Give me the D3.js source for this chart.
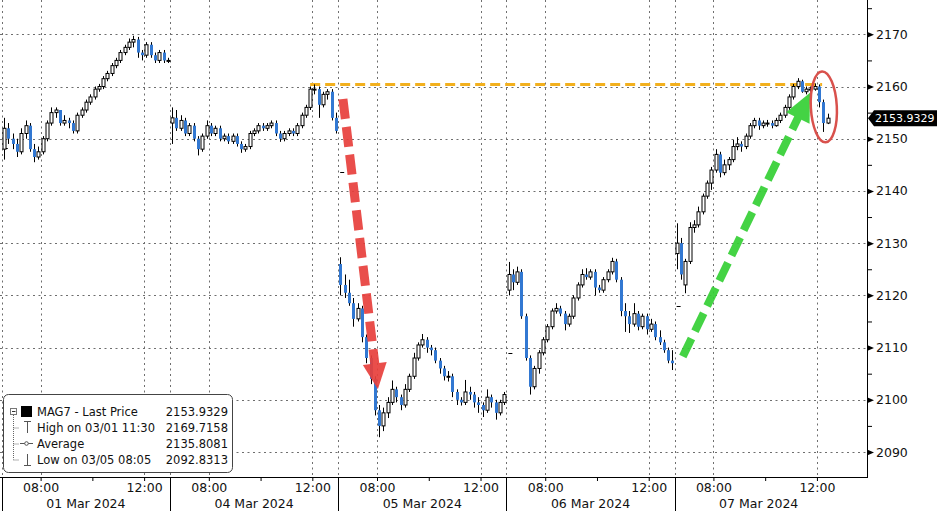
<!DOCTYPE html>
<html><head><meta charset="utf-8">
<script src="https://cdn.jsdelivr.net/npm/d3@7"></script>
<style>
html,body{margin:0;padding:0;background:#fff;}
svg{display:block;}
text{font-family:"DejaVu Sans","Liberation Sans",sans-serif;}
</style></head><body>
<svg id="c" width="937" height="511"></svg>
<script>
// ---------------- DATA ----------------
const days = ["01 Mar 2024","04 Mar 2024","05 Mar 2024","06 Mar 2024","07 Mar 2024"];
const sessionMinutes = 390;   // 06:30 - 13:00
const barMinutes = 10;
// [open, high, low, close]
const mar01 = [
[2148,2154,2146,2152],[2152,2153,2149,2150],[2150,2151,2148,2149],[2149,2150,2146.5,2147.5],
[2147.5,2152,2147,2151],[2151,2153.5,2150,2152.5],[2152.5,2153,2147.5,2148],[2148,2149,2145.5,2146.5],
[2146.5,2148.5,2146,2147.5],[2147.5,2150.5,2147,2150],[2150,2153.5,2149.5,2153],[2153,2156,2152.5,2155],
[2155,2156,2154,2155.5],[2155.5,2155.5,2152.5,2153],[2153,2154.5,2152.5,2153.5],[2153.5,2154,2152,2153],
[2153,2153.5,2151,2151.5],[2151.5,2155,2151,2154.5],[2154.5,2156,2154,2155.5],[2155.5,2157.5,2155,2157],
[2157,2158.5,2156.5,2158],[2158,2160,2157.5,2159.5],[2159.5,2160.5,2159,2160],[2160,2162,2159.5,2161.5],
[2161.5,2163,2161,2162.5],[2162.5,2164.5,2162,2164],[2164,2165.5,2163.5,2165],[2165,2167,2164.5,2166.5],
[2166.5,2168,2166,2167.5],[2167.5,2169.2,2167,2168.5],[2168.5,2169.72,2167.5,2169],[2169,2169.5,2165.5,2166.5],
[2166.5,2167,2165,2166],[2166,2168.5,2165.5,2168],[2168,2168.5,2165.5,2166],[2166,2166.5,2164.5,2165],
[2165,2167,2164.5,2166.5],[2166.5,2167,2164.5,2165],[2165,2165.5,2164.5,2165]
];
const mar04 = [
[2153,2156,2149,2154],[2154,2155.5,2151.5,2152],[2152,2154.5,2151.5,2153.5],[2153.5,2154,2150.5,2151],
[2151,2153,2150.5,2152.5],[2152.5,2153,2149.5,2150],[2150,2150.5,2146.8,2148],[2148,2151,2147.5,2150.5],
[2150.5,2153.5,2150,2152.5],[2152.5,2153,2150.5,2151],[2151,2152.5,2150.5,2152],[2152,2152.5,2149.5,2150],
[2150,2151,2149.5,2150.5],[2150.5,2151,2149,2149.5],[2149.5,2151,2149,2150.5],[2150.5,2151,2148.5,2149],
[2149,2149.5,2147.3,2148],[2148,2149,2147.5,2148.5],[2148.5,2151.5,2148,2151],[2151,2152,2150.5,2151.5],
[2151.5,2153,2151,2152.5],[2152.5,2153,2151.5,2152],[2152,2153,2151.5,2152.5],[2152.5,2153.5,2152,2153],
[2153,2153.5,2150.5,2151],[2151,2151.5,2149.4,2150],[2150,2151.5,2149.5,2151],[2151,2152,2150.5,2151.5],
[2151.5,2152,2150.5,2151],[2151,2153,2150.5,2152.5],[2152.5,2155,2152,2154.5],[2154.5,2156.5,2154,2156],
[2156,2160,2155.5,2159.5],[2159.5,2160.4,2158.5,2159.5],[2159.5,2160,2154,2156.5],[2156.5,2159,2156,2158.5],
[2158.5,2159.5,2157.5,2159],[2159,2159.5,2153.5,2154],[2154,2155,2151,2151.5]
];
const mar05 = [
[2126,2127.3,2120,2122],[2122,2124,2119.5,2120.5],[2120.5,2123,2118,2118.5],[2118.5,2119.5,2114,2115.5],
[2115.5,2118.5,2115,2117.5],[2117.5,2118,2111,2112],[2112,2112.5,2107,2108],[2108,2108.5,2103,2104],
[2104,2104.5,2097,2098],[2098,2099,2092.83,2095],[2095,2098.5,2094,2097.5],[2097.5,2100.5,2096.5,2099.5],
[2099.5,2103.7,2099,2102],[2102,2102.5,2099.5,2100.5],[2100.5,2101,2098,2099],[2099,2103,2098.5,2102],
[2102,2105,2101.5,2104.5],[2104.5,2109,2104,2108],[2108,2111,2107.5,2110.5],[2110.5,2112.6,2110,2111.5],
[2111.5,2112,2109,2110],[2110,2110.5,2108.5,2109.5],[2109.5,2110,2107,2107.5],[2107.5,2108,2105,2106],
[2106,2106.5,2103.7,2104.5],[2104.5,2105.5,2103.5,2104.5],[2104.5,2105,2100.5,2101.5],[2101.5,2102,2099,2100],
[2100,2100.5,2098.9,2099.5],[2099.5,2103.8,2099,2101.5],[2101.5,2102.5,2100,2101],[2101,2101.5,2098.5,2099.5],
[2099.5,2100.5,2097.5,2099],[2099,2099.5,2096.7,2098],[2098,2102,2097.5,2100.5],[2100.5,2101,2098.5,2099.5],
[2099.5,2100,2096.2,2097.5],[2097.5,2100,2097,2099.5],[2099.5,2101.5,2099,2101]
];
const mar06 = [
[2121,2126.4,2120,2124],[2124,2125,2121,2122.5],[2122.5,2125.5,2122,2124.5],[2124.5,2125,2115.5,2116],
[2116,2116.5,2107.5,2108],[2108,2108.5,2101,2102.5],[2102.5,2106.5,2102,2106],[2106,2109.5,2105,2109],
[2109,2112,2108.5,2111.5],[2111.5,2114.5,2111,2114],[2114,2117.5,2113.5,2117],[2117,2118.5,2116.5,2117.5],
[2117.5,2118,2116,2116.5],[2116.5,2117,2113.3,2114.5],[2114.5,2116.5,2114,2116],[2116,2120,2115.5,2119.5],
[2119.5,2122.5,2119,2122],[2122,2125,2121.5,2124],[2124,2125.2,2123,2123.5],[2123.5,2125,2123,2124.5],
[2124.5,2125,2120,2121.5],[2121.5,2122,2120.5,2121],[2121,2123.5,2120.5,2123],[2123,2125,2122.5,2124.5],
[2124.5,2127.2,2124,2126.5],[2126.5,2127,2122.5,2123],[2123,2123.5,2116,2117],[2117,2118.5,2113,2116],
[2116,2117,2112.8,2114.5],[2114.5,2118.5,2114,2116.5],[2116.5,2117,2113.3,2114],[2114,2116.5,2113.5,2116],
[2116,2116.5,2112.5,2113.5],[2113.5,2115.5,2113,2114.5],[2114.5,2115,2111.4,2112],[2112,2113.3,2110.5,2111],
[2111,2111.5,2109,2109.5],[2109.5,2110,2107,2107.5],[2107.5,2109.5,2105.7,2107]
];
const mar07 = [
[2128,2133.8,2125,2130],[2130,2131,2123,2124],[2122,2127,2120.4,2126.5],[2126.5,2134,2126,2133],
[2133,2134.4,2132,2133.5],[2133.5,2137,2133,2136],[2136,2139.5,2135.5,2139],[2139,2142,2138.5,2141.5],
[2141.5,2144.6,2140.2,2144],[2144,2148,2143.5,2147],[2147,2147.5,2142.6,2143.5],[2143.5,2146,2143,2145],
[2145,2146.5,2144,2146],[2146,2149.8,2145.5,2148.5],[2148.5,2150.3,2147.8,2149],[2149,2149.5,2147.5,2148.5],
[2148.5,2151,2148,2150.5],[2150.5,2153,2150,2152.5],[2152.5,2154,2152,2153.5],[2153.5,2154,2151.7,2152.5],
[2152.5,2153.5,2152,2153],[2153,2153.6,2152.3,2153],[2153,2153.5,2152,2152.5],[2152.5,2154,2152.3,2153.5],
[2153.5,2155,2153,2154.5],[2154.5,2156.5,2154,2156],[2156,2158.5,2155.5,2158],[2158,2160.5,2157.5,2160],
[2160,2161.6,2159.5,2161],[2161,2161.3,2158.8,2159],[2159,2160,2158.5,2159.5],[2159.5,2160,2159,2159.5],
[2159.5,2160.6,2159.2,2160],[2160,2160.4,2156,2157],[2157,2157.5,2151.3,2153],[2153,2154.8,2152.8,2153.9329]
];
const dayBars = [mar01, mar04, mar05, mar06, mar07];
const firstTicks = [2148.2, null, 2143.7, 2109, 2118];
const priceTicks = [2090,2100,2110,2120,2130,2140,2150,2160,2170];
const minorPriceTicks = [2095,2105,2115,2125,2135,2145,2155,2165,2175];
const timeTickMinutes = [90,210,330];          // 08:00, 10:00, 12:00
const timeTickLabels = ["08:00","","12:00"];
const lastPrice = 2153.9329;
const legendLabels = ["MAG7 - Last Price","High on 03/01 11:30","Average","Low on 03/05 08:05"];
const legendValues = ["2153.9329","2169.7158","2135.8081","2092.8313"];
// annotations: [dayIndex, minute, price]
const refLevel = 2160.4;
const refFrom = [1, 325];
const refTo = [4, 342];
const redArrow = [[2, 11, 2157.6], [2, 92, 2102.0]];
const greenArrow = [[4, 19, 2108.3], [4, 314, 2158.8]];
const ellipseAt = [4, 346, 2156.1];

// ---------------- CHART ----------------
const svg = d3.select("#c");
const W = 937, H = 511, axisX = 867, axisY = 477;
const FS = 12.5;
const x = d3.scaleLinear().domain([0, days.length * sessionMinutes]).range([1.8, 842.8]);
const y = d3.scaleLinear().domain([2090, 2170]).range([452, 34.3]);
const tx = (d, m) => x(d * sessionMinutes + m);
const BLUE = "#3278d2";

// grid
const grid = svg.append("g").attr("stroke", "#6e6e6e").attr("stroke-dasharray", "2,3.5").attr("stroke-width", 1);
priceTicks.forEach(p => {
  const yy = Math.round(y(p)) + 0.5;
  grid.append("line").attr("x1", 0).attr("x2", axisX).attr("y1", yy).attr("y2", yy);
});
const vTimes = [];
days.forEach((d, i) => { vTimes.push(i * sessionMinutes); vTimes.push(i * sessionMinutes + 90); vTimes.push(i * sessionMinutes + 330); });
vTimes.forEach(t => {
  const xx = Math.round(x(t)) + 0.5;
  grid.append("line").attr("x1", xx).attr("x2", xx).attr("y1", 0).attr("y2", axisY);
});

// reference level (orange dashed)
svg.append("line")
  .attr("x1", tx(refFrom[0], refFrom[1])).attr("x2", tx(refTo[0], refTo[1]))
  .attr("y1", y(refLevel)).attr("y2", y(refLevel))
  .attr("stroke", "#f2b01e").attr("stroke-width", 3).attr("stroke-dasharray", "10,5");

// candles
const cg = svg.append("g");
dayBars.forEach((bars, d) => {
  if (firstTicks[d] != null) {
    const fx = tx(d, 0);
    cg.append("line").attr("x1", fx + 2).attr("x2", fx + 6)
      .attr("y1", Math.round(y(firstTicks[d])) + 0.5).attr("y2", Math.round(y(firstTicks[d])) + 0.5)
      .attr("stroke", "#000").attr("stroke-width", 1);
  }
  bars.forEach((b, i) => {
    const [o, h, l, c] = b;
    const cx = Math.round(tx(d, i * barMinutes + barMinutes / 2)) + 0.5;
    cg.append("line").attr("x1", cx).attr("x2", cx).attr("y1", y(h)).attr("y2", y(l))
      .attr("stroke", "#000").attr("stroke-width", 1);
    const top = y(Math.max(o, c)), bot = y(Math.min(o, c));
    if (c >= o) {
      cg.append("rect").attr("x", cx - 1.5).attr("width", 3)
        .attr("y", top).attr("height", Math.max(1, bot - top))
        .attr("fill", "#fff").attr("stroke", "#000").attr("stroke-width", 1);
    } else {
      cg.append("rect").attr("x", cx - 1.5).attr("width", 3)
        .attr("y", top).attr("height", Math.max(1, bot - top))
        .attr("fill", BLUE);
    }
  });
});

// arrows
function drawArrow(a, color, sw, headLen, headHalf) {
  const p0 = [tx(a[0][0], a[0][1]), y(a[0][2])];
  const p1 = [tx(a[1][0], a[1][1]), y(a[1][2])];
  const dx = p1[0] - p0[0], dy = p1[1] - p0[1];
  const len = Math.hypot(dx, dy);
  const ux = dx / len, uy = dy / len, px = -uy, py = ux;
  const bx = p1[0] - ux * headLen, by = p1[1] - uy * headLen;
  const g = svg.append("g").attr("opacity", 0.92);
  g.append("line").attr("x1", p0[0]).attr("y1", p0[1]).attr("x2", bx + ux * 2).attr("y2", by + uy * 2)
    .attr("stroke", color).attr("stroke-width", sw).attr("stroke-dasharray", "20,8");
  g.append("path").attr("d", `M${p1[0]},${p1[1]}L${bx + px * headHalf},${by + py * headHalf}L${bx - px * headHalf},${by - py * headHalf}Z`)
    .attr("fill", color);
}
drawArrow(redArrow, "#e8403c", 9, 26, 12);
drawArrow(greenArrow, "#35d035", 8, 28, 13);

// ellipse
svg.append("ellipse")
  .attr("cx", tx(ellipseAt[0], ellipseAt[1])).attr("cy", y(ellipseAt[2]))
  .attr("rx", 13).attr("ry", 35.5)
  .attr("transform", `rotate(-3 ${tx(ellipseAt[0], ellipseAt[1])} ${y(ellipseAt[2])})`)
  .attr("fill", "none").attr("stroke", "#d9514c").attr("stroke-width", 2.5);

// right axis
svg.append("line").attr("x1", axisX + 0.5).attr("x2", axisX + 0.5).attr("y1", 0).attr("y2", axisY)
  .attr("stroke", "#000");
const yAxis = svg.append("g").attr("transform", `translate(${axisX},0)`)
  .call(d3.axisRight(y).tickValues(priceTicks).tickSize(0).tickPadding(9).tickFormat(d3.format("d")));
yAxis.select(".domain").remove();
yAxis.selectAll("text").attr("font-size", FS).attr("fill", "#111")
  .attr("font-family", '"DejaVu Sans",sans-serif');
yAxis.selectAll(".tick").append("path").attr("d", "M0,-3L7,0L0,3Z").attr("fill", "#000");
const yMinor = svg.append("g").attr("transform", `translate(${axisX},0)`)
  .call(d3.axisRight(y).tickValues(minorPriceTicks).tickSize(5).tickFormat(""));
yMinor.select(".domain").remove();

// last price label
const ly = y(lastPrice);
svg.append("path").attr("d", `M868,${ly}L874,${ly - 8}L937,${ly - 8}L937,${ly + 8}L874,${ly + 8}Z`).attr("fill", "#000");
svg.append("text").attr("x", 875).attr("y", ly).attr("dy", "0.36em").attr("fill", "#fff")
  .attr("font-size", 11).text(d3.format(".4f")(lastPrice));

// bottom axis
svg.append("line").attr("x1", 0).attr("x2", axisX + 1).attr("y1", axisY + 0.5).attr("y2", axisY + 0.5).attr("stroke", "#000");
const tickVals = [], tickLab = {};
days.forEach((d, i) => timeTickMinutes.forEach((m, j) => { const t = i * sessionMinutes + m; tickVals.push(t); tickLab[t] = timeTickLabels[j]; }));
const xAxis = svg.append("g").attr("transform", `translate(0,${axisY})`)
  .call(d3.axisBottom(x).tickValues(tickVals).tickSize(4).tickPadding(2).tickFormat(t => tickLab[t]));
xAxis.select(".domain").remove();
xAxis.selectAll("text").attr("font-size", FS).attr("fill", "#111")
  .attr("font-family", '"DejaVu Sans",sans-serif');
days.forEach((d, i) => {
  const sx = Math.round(x(i * sessionMinutes)) + 0.5;
  svg.append("line").attr("x1", sx).attr("x2", sx).attr("y1", axisY).attr("y2", H).attr("stroke", "#000");
  svg.append("text").attr("x", x(i * sessionMinutes + sessionMinutes / 2)).attr("y", 507.5)
    .attr("text-anchor", "middle").attr("font-size", FS).attr("fill", "#111").text(d);
});

// legend
const lg = svg.append("g");
lg.append("rect").attr("x", 3.5).attr("y", 394.5).attr("width", 229).attr("height", 78).attr("rx", 5)
  .attr("fill", "#fff").attr("stroke", "#444");
const rowY = [411.5, 427.5, 443.5, 459.5];
const tree = lg.append("g").attr("stroke", "#666").attr("stroke-dasharray", "1,1");
tree.append("line").attr("x1", 13.5).attr("x2", 13.5).attr("y1", 415).attr("y2", rowY[3]);
[1, 2, 3].forEach(r => tree.append("line").attr("x1", 13.5).attr("x2", 19).attr("y1", rowY[r] + 0.5).attr("y2", rowY[r] + 0.5));
lg.append("rect").attr("x", 10.5).attr("y", 408.5).attr("width", 6).attr("height", 6).attr("fill", "#fff").attr("stroke", "#777");
lg.append("line").attr("x1", 12).attr("x2", 15.5).attr("y1", 411.5).attr("y2", 411.5).attr("stroke", "#333");
lg.append("rect").attr("x", 21).attr("y", 406).attr("width", 11).attr("height", 11).attr("fill", "#000");
const ic = lg.append("g").attr("stroke", "#555").attr("fill", "none");
ic.append("line").attr("x1", 24).attr("x2", 31).attr("y1", 421.5).attr("y2", 421.5);
ic.append("line").attr("x1", 27.5).attr("x2", 27.5).attr("y1", 421.5).attr("y2", 433);
ic.append("line").attr("x1", 20).attr("x2", 33).attr("y1", 443.5).attr("y2", 443.5);
ic.append("circle").attr("cx", 26.5).attr("cy", 443.5).attr("r", 1.8).attr("fill", "#fff");
ic.append("line").attr("x1", 27.5).attr("x2", 27.5).attr("y1", 454).attr("y2", 465.5);
ic.append("line").attr("x1", 24).attr("x2", 31).attr("y1", 465.5).attr("y2", 465.5);
legendLabels.forEach((t, r) => {
  lg.append("text").attr("x", 37).attr("y", rowY[r]).attr("dy", "0.36em").attr("font-size", 11.5).attr("fill", "#111").text(t);
  lg.append("text").attr("x", 228).attr("y", rowY[r]).attr("dy", "0.36em").attr("font-size", 11.5).attr("fill", "#111")
    .attr("text-anchor", "end").text(legendValues[r]);
});
</script>
</body></html>
